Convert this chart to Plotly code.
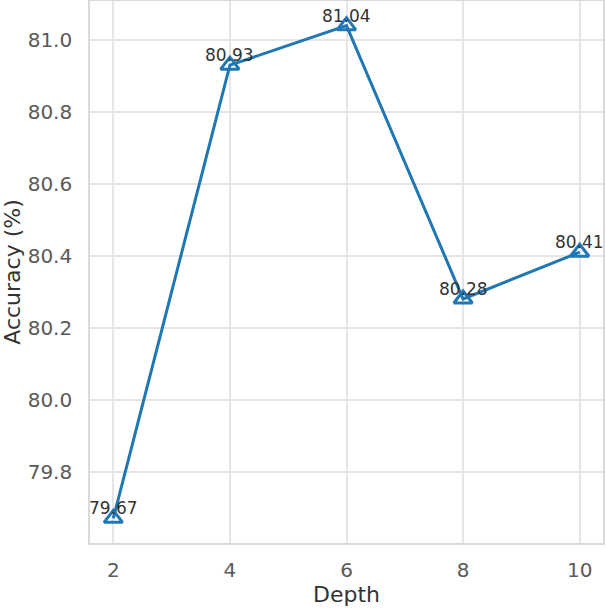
import plotly.graph_objects as go

depth = [2, 4, 6, 8, 10]
accuracy = [79.67, 80.93, 81.04, 80.28, 80.41]
labels = ["79.67", "80.93", "81.04", "80.28", "80.41"]
y_ticks = [79.8, 80.0, 80.2, 80.4, 80.6, 80.8, 81.0]
x_ticks = [2, 4, 6, 8, 10]

fig = go.Figure()
fig.add_trace(go.Scatter(
    x=depth, y=accuracy, mode="lines+markers",
    line=dict(color="#1f77b4", width=3),
    marker=dict(symbol="triangle-up-open", size=16, color="#1f77b4",
                line=dict(color="#1f77b4", width=3)),
    showlegend=False, cliponaxis=False, hoverinfo="skip",
))
for xv, yv, t in zip(depth, accuracy, labels):
    fig.add_annotation(x=xv, y=yv, text=t, showarrow=False,
                       yshift=10, xanchor="center", yanchor="middle",
                       font=dict(family="DejaVu Sans", size=17, color="#333333"))

fig.update_layout(
    width=606, height=608,
    margin=dict(l=90, r=3, t=1, b=65, autoexpand=False),
    paper_bgcolor="white", plot_bgcolor="white",
    font=dict(family="DejaVu Sans", color="#555555"),
    xaxis=dict(range=[1.6, 10.4], tickvals=x_ticks, ticktext=[str(v) for v in x_ticks],
               showgrid=True, gridcolor="#e5e5e5", gridwidth=1.6,
               showline=True, linecolor="#dadada", linewidth=1.6, mirror=True,
               zeroline=False, ticks="", tickfont=dict(size=20, color="#5a5a5a"),
               ticklabelstandoff=8, automargin=False,
               title=dict(text="Depth", font=dict(size=22, color="#333333"), standoff=2)),
    yaxis=dict(range=[79.6015, 81.1085], tickvals=y_ticks,
               ticktext=[f"{v:.1f}" for v in y_ticks],
               showgrid=True, gridcolor="#e5e5e5", gridwidth=1.6,
               showline=True, linecolor="#dadada", linewidth=1.6, mirror=True,
               zeroline=False, ticks="", tickfont=dict(size=20, color="#5a5a5a"),
               ticklabelstandoff=12, automargin=False,
               title=dict(text="Accuracy (%)", font=dict(size=22, color="#333333"), standoff=6)),
)
fig.write_html("out.html", config={"displayModeBar": False},
               post_script="document.body.style.margin='0';document.body.style.overflow='hidden';")
